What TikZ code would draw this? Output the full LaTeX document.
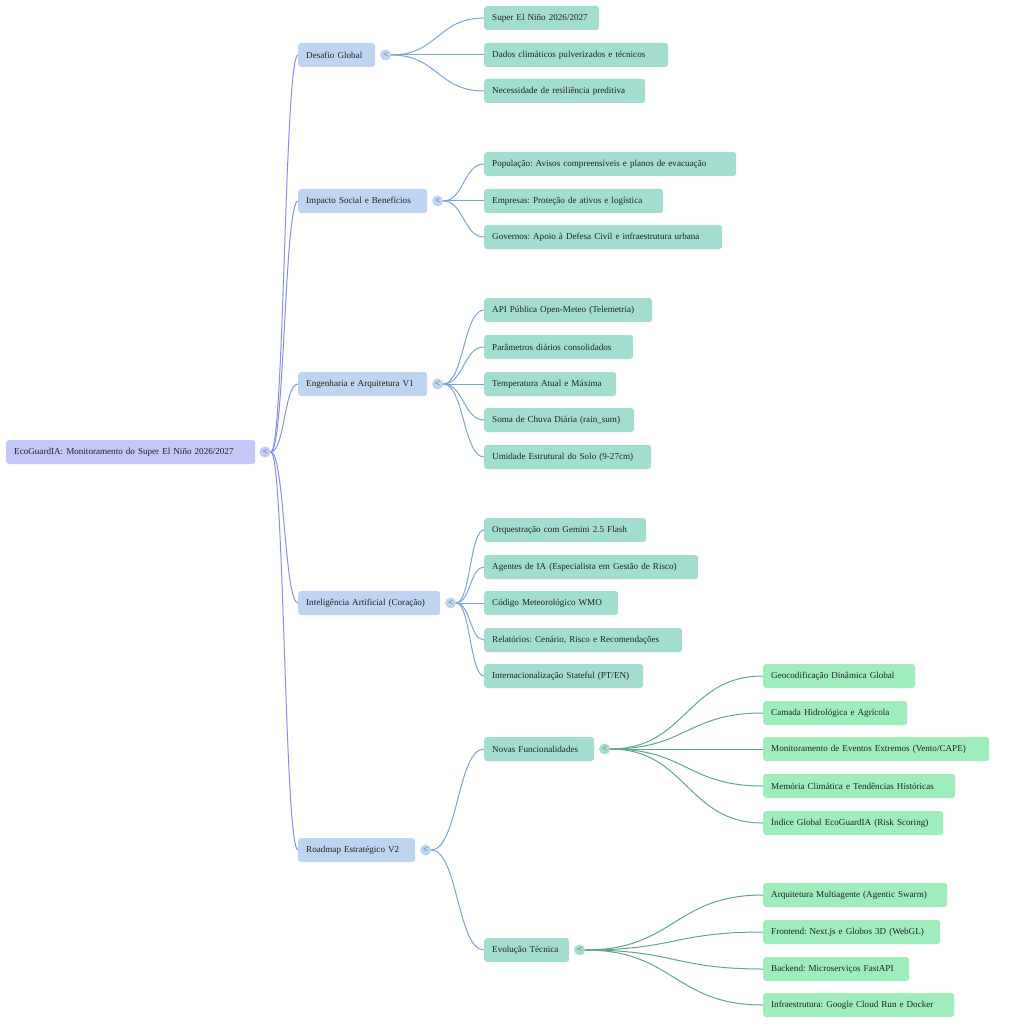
\documentclass[tikz,border=0pt]{standalone}
\usepackage{fontspec}
\setmainfont{Liberation Serif}
\usetikzlibrary{positioning,calc}
\definecolor{rootfill}{HTML}{C4C7FA}
\definecolor{bluefill}{HTML}{BDD5F0}
\definecolor{tealfill}{HTML}{A3DDD0}
\definecolor{greenfill}{HTML}{9FEDBD}
\definecolor{rootline}{HTML}{8A8EE8}
\definecolor{blueline}{HTML}{7CA5DF}
\definecolor{tealline}{HTML}{5FA696}
\definecolor{txt}{HTML}{222222}
\frenchspacing
\begin{document}
\begin{tikzpicture}[x=1pt,y=-1pt,line cap=round,font=\fontsize{9.1}{11}\selectfont]
	\tikzset{box/.style={anchor=west,rounded corners=3pt,minimum height=24pt,inner xsep=8pt,inner ysep=0pt,text=txt,align=left,text width=#1,execute at begin node=\frenchspacing}}
	\tikzset{toggle/.style={circle,inner sep=0pt,minimum size=11pt,text=black!65,font=\fontsize{9}{9}\selectfont}}
	\tikzset{link/.style={line width=1pt,to path={let \p1=(\tikztostart),\p2=(\tikztotarget) in .. controls ({0.5*\x1+0.5*\x2},\y1) and ({0.5*\x1+0.5*\x2},\y2) .. (\tikztotarget)}}}
	\def \xa{298} \def \xb{484} \def \xc{763}
	\useasboundingbox[fill=white] (0,0) rectangle (1010,1024);
	% root
	\node[box=233pt,fill=rootfill] (root) at (6,452) {EcoGuardIA: Monitoramento do Super El Niño 2026/2027};
	\node[toggle,fill=rootfill,right=4pt of root] (rootc) {<};
	% level 1
	\node[box=61pt,fill=bluefill] (dg) at (\xa,55) {Desafio Global};
	\node[box=113pt,fill=bluefill] (is) at (\xa,201) {Impacto Social e Benefícios};
	\node[box=113pt,fill=bluefill] (ea) at (\xa,384) {Engenharia e Arquitetura V1};
	\node[box=126pt,fill=bluefill] (ia) at (\xa,603) {Inteligência Artificial (Coração)};
	\node[box=101pt,fill=bluefill] (rm) at (\xa,850) {Roadmap Estratégico V2};
	\foreach \b in {dg,is,ea,ia,rm}
		\node[toggle,fill=bluefill,right=4.5pt of \b] (\b c) {<};
	% level 2
	\node[box=99pt,fill=tealfill] (dg1) at (\xb,18) {Super El Niño 2026/2027};
	\node[box=168pt,fill=tealfill] (dg2) at (\xb,55) {Dados climáticos pulverizados e técnicos};
	\node[box=145pt,fill=tealfill] (dg3) at (\xb,91) {Necessidade de resiliência preditiva};
	\node[box=236pt,fill=tealfill] (is1) at (\xb,164) {População: Avisos compreensíveis e planos de evacuação};
	\node[box=163pt,fill=tealfill] (is2) at (\xb,201) {Empresas: Proteção de ativos e logística};
	\node[box=222pt,fill=tealfill] (is3) at (\xb,237) {Governos: Apoio à Defesa Civil e infraestrutura urbana};
	\node[box=152pt,fill=tealfill] (ea1) at (\xb,310) {API Pública Open-Meteo (Telemetria)};
	\node[box=133pt,fill=tealfill] (ea2) at (\xb,347) {Parâmetros diários consolidados};
	\node[box=116pt,fill=tealfill] (ea3) at (\xb,384) {Temperatura Atual e Máxima};
	\node[box=134pt,fill=tealfill] (ea4) at (\xb,420) {Soma de Chuva Diária (rain\_sum)};
	\node[box=151pt,fill=tealfill] (ea5) at (\xb,457) {Umidade Estrutural do Solo (9-27cm)};
	\node[box=146pt,fill=tealfill] (ia1) at (\xb,530) {Orquestração com Gemini 2.5 Flash};
	\node[box=198pt,fill=tealfill] (ia2) at (\xb,567) {Agentes de IA (Especialista em Gestão de Risco)};
	\node[box=118pt,fill=tealfill] (ia3) at (\xb,603) {Código Meteorológico WMO};
	\node[box=182pt,fill=tealfill] (ia4) at (\xb,640) {Relatórios: Cenário, Risco e Recomendações};
	\node[box=143pt,fill=tealfill] (ia5) at (\xb,676) {Internacionalização Stateful (PT/EN)};
	\node[box=94pt,fill=tealfill] (rm1) at (\xb,749) {Novas Funcionalidades};
	\node[box=69pt,fill=tealfill] (rm2) at (\xb,950) {Evolução Técnica};
	\node[toggle,fill=tealfill,right=4.5pt of rm1] (rm1c) {<};
	\node[toggle,fill=tealfill,right=4.5pt of rm2] (rm2c) {<};
	% level 3
	\node[box=136pt,fill=greenfill] (nf1) at (\xc,676) {Geocodificação Dinâmica Global};
	\node[box=128pt,fill=greenfill] (nf2) at (\xc,713) {Camada Hidrológica e Agrícola};
	\node[box=210pt,fill=greenfill] (nf3) at (\xc,749) {Monitoramento de Eventos Extremos (Vento/CAPE)};
	\node[box=176pt,fill=greenfill] (nf4) at (\xc,786) {Memória Climática e Tendências Históricas};
	\node[box=164pt,fill=greenfill] (nf5) at (\xc,823) {Índice Global EcoGuardIA (Risk Scoring)};
	\node[box=168pt,fill=greenfill] (et1) at (\xc,895) {Arquitetura Multiagente (Agentic Swarm)};
	\node[box=161pt,fill=greenfill] (et2) at (\xc,932) {Frontend: Next.js e Globos 3D (WebGL)};
	\node[box=130pt,fill=greenfill] (et3) at (\xc,969) {Backend: Microserviços FastAPI};
	\node[box=175pt,fill=greenfill] (et4) at (\xc,1005) {Infraestrutura: Google Cloud Run e Docker};
	% links
	\foreach \b in {dg,is,ea,ia,rm}
		\draw[link,rootline] (rootc.east) to (\b.west);
	\foreach \b/\k in {dg/3,is/3,ea/5,ia/5,rm/2}
		\foreach \i in {1,...,\k}
			\draw[link,blueline] (\b c.east) to (\b\i.west);
	\foreach \i in {1,...,5}
		\draw[link,tealline] (rm1c.east) to (nf\i.west);
	\foreach \i in {1,...,4}
		\draw[link,tealline] (rm2c.east) to (et\i.west);
\end{tikzpicture}
\end{document}
